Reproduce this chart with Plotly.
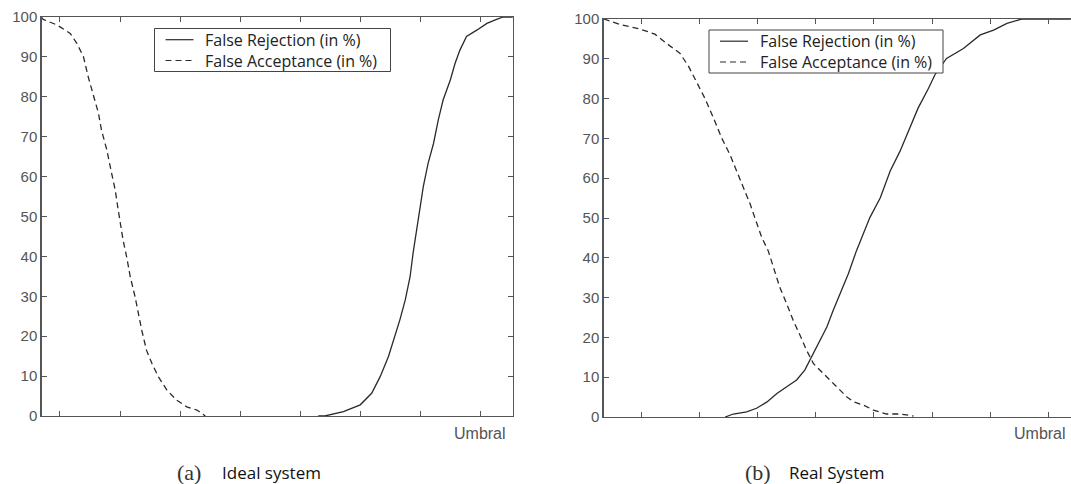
import plotly.graph_objects as go

# ---------------- data (threshold units, percent) ----------------
ideal_fa_x = [0.69, 0.72, 0.95, 1.17, 1.28, 1.39, 1.47, 1.56, 1.64, 1.69, 1.78, 1.86, 1.92, 1.97,
              2.05, 2.11, 2.17, 2.25, 2.30, 2.36, 2.44, 2.53, 2.64, 2.78, 2.94, 3.11, 3.28, 3.42]
ideal_fa_y = [100, 99.4, 98.0, 95.9, 93.4, 90.1, 85.0, 80.0, 75.9, 71.7, 66.7, 60.8, 56.6, 51.6,
              44.1, 39.9, 34.9, 29.9, 25.7, 21.6, 16.5, 13.2, 9.8, 6.5, 4.0, 2.3, 1.5, 0]

ideal_fr_x = [5.30, 5.41, 5.72, 6.00, 6.19, 6.33, 6.47, 6.58, 6.66, 6.75, 6.83, 6.88, 6.94, 7.00,
              7.05, 7.13, 7.22, 7.30, 7.38, 7.50, 7.58, 7.66, 7.77, 7.94, 8.11, 8.27, 8.38, 8.54]
ideal_fr_y = [0, 0, 1.1, 2.8, 5.7, 9.8, 14.9, 19.9, 24.1, 29.1, 34.9, 40.8, 46.6, 51.6,
              57.5, 63.3, 68.3, 74.2, 79.2, 84.2, 88.4, 91.7, 95.1, 96.7, 98.4, 99.4, 100, 100]

real_fa_x = [0.35, 0.63, 0.97, 1.23, 1.43, 1.66, 1.81, 1.95, 2.09, 2.24, 2.38, 2.52, 2.64, 2.75,
             2.87, 2.95, 3.07, 3.18, 3.27, 3.38, 3.50, 3.61, 3.73, 3.84, 3.96, 4.19, 4.42, 4.53,
             4.65, 4.82, 4.99, 5.22, 5.45, 5.68]
real_fa_y = [100, 98.6, 97.5, 96.2, 93.9, 91.4, 88.1, 83.9, 80.1, 75.1, 70.1, 66.0, 61.8, 57.6,
             53.5, 50.1, 45.1, 41.8, 37.6, 32.6, 28.4, 24.3, 20.5, 16.8, 13.4, 10.1, 6.8, 5.1,
             3.8, 3.0, 1.75, 0.75, 0.75, 0.25]

real_fr_x = [2.44, 2.58, 2.81, 2.98, 3.16, 3.33, 3.50, 3.67, 3.81, 3.93, 4.04, 4.19, 4.30, 4.42,
             4.56, 4.70, 4.93, 5.11, 5.28, 5.45, 5.59, 5.76, 5.94, 6.05, 6.25, 6.54, 6.83, 7.06,
             7.29, 7.46, 7.55, 8.39]
real_fr_y = [0, 0.75, 1.3, 2.2, 3.8, 5.9, 7.6, 9.3, 11.8, 15.1, 18.4, 22.6, 26.8, 30.9,
             36, 41.8, 50.1, 55.1, 61.8, 66.8, 71.8, 77.6, 82.6, 86, 90.1, 92.6, 96, 97.2,
             98.9, 99.5, 100, 100]

x_ticks = [1, 2, 3, 4, 5, 6, 7, 8]
y_ticks = [0, 10, 20, 30, 40, 50, 60, 70, 80, 90, 100]
fr_name = "False Rejection (in %)"
fa_name = "False Acceptance (in %)"
axis_label = "Umbral"
captions = [("(a)", "Ideal system"), ("(b)", "Real System")]

# ---------------- figure ----------------
W, H = 1071, 484
LINE = "#2a2a2a"
FRAME = "#555555"
DASH = "6px,4px"

def px_x(p):
    return p / W

def px_y(p):
    return (H - p) / H

fig = go.Figure()
fig.add_trace(go.Scatter(x=ideal_fr_x, y=ideal_fr_y, mode="lines", name=fr_name,
                         line=dict(color=LINE, width=1.3), xaxis="x", yaxis="y"))
fig.add_trace(go.Scatter(x=ideal_fa_x, y=ideal_fa_y, mode="lines", name=fa_name,
                         line=dict(color=LINE, width=1.3, dash=DASH), xaxis="x", yaxis="y"))
fig.add_trace(go.Scatter(x=real_fr_x, y=real_fr_y, mode="lines", name=fr_name,
                         line=dict(color=LINE, width=1.3), xaxis="x2", yaxis="y2"))
fig.add_trace(go.Scatter(x=real_fa_x, y=real_fa_y, mode="lines", name=fa_name,
                         line=dict(color=LINE, width=1.3, dash=DASH), xaxis="x2", yaxis="y2"))

tickfont = dict(family="Liberation Sans, Arial, sans-serif", size=15, color="#555555")

common_x = dict(showline=True, linecolor=FRAME, linewidth=1.2, ticks="inside", ticklen=5,
                tickcolor=FRAME, tickvals=x_ticks, showticklabels=False, showgrid=False,
                zeroline=False, fixedrange=True, automargin=False)
common_y = dict(showline=True, linecolor=FRAME, linewidth=1.2, ticks="inside", ticklen=5,
                tickcolor=FRAME, tickvals=y_ticks, showgrid=False, zeroline=False,
                range=[0, 100], tickfont=tickfont, fixedrange=True, automargin=False)

fig.update_layout(
    width=W, height=H,
    margin=dict(l=0, r=0, t=0, b=0, autoexpand=False),
    paper_bgcolor="white", plot_bgcolor="white",
    showlegend=False,
    hovermode=False,
    xaxis=dict(domain=[px_x(41.5), px_x(513)], range=[0.692, 8.544], mirror="ticks",
               anchor="y", **common_x),
    yaxis=dict(domain=[px_y(416), px_y(17)], mirror="ticks", anchor="x", **common_y),
    xaxis2=dict(domain=[px_x(603.5), 1.0], range=[0.346, 8.392], mirror="ticks",
                anchor="y2", **common_x),
    yaxis2=dict(domain=[px_y(417), px_y(19)], mirror=False, anchor="x2", **common_y),
)

shapes = []
ann = []
legend_font = dict(family="Open Sans, Noto Sans, sans-serif", size=16, color="#222222")
# legend keys: (left, top, width, height) of the framed box
legend_boxes = [(154.5, 28.5, 236, 43), (709, 30, 234, 43)]
for (lx, ly, lw, lh) in legend_boxes:
    shapes.append(dict(type="rect", xref="paper", yref="paper",
                       x0=px_x(lx), x1=px_x(lx + lw), y0=px_y(ly), y1=px_y(ly + lh),
                       line=dict(color="#444444", width=1), fillcolor="white", layer="above"))
    row_y = [ly + 11.2, ly + 32.0]
    for dash, cy in zip(["solid", DASH], row_y):
        shapes.append(dict(type="line", xref="paper", yref="paper",
                           x0=px_x(lx + 11), x1=px_x(lx + 39), y0=px_y(cy), y1=px_y(cy),
                           line=dict(color=LINE, width=1.2, dash=dash), layer="above"))
    ann.append(dict(text=fr_name + "<br>" + fa_name, x=px_x(lx + 48.5),
                    y=px_y((row_y[0] + row_y[1]) / 2), xref="paper", yref="paper",
                    xanchor="left", yanchor="middle", align="left", showarrow=False,
                    font=legend_font))

ann.append(dict(text=axis_label, x=px_x(508), y=px_y(433), xref="paper", yref="paper",
                xanchor="right", yanchor="middle", showarrow=False,
                font=dict(family="Liberation Sans, Arial, sans-serif", size=16, color="#555555")))
ann.append(dict(text=axis_label, x=px_x(1068), y=px_y(433.5), xref="paper", yref="paper",
                xanchor="right", yanchor="middle", showarrow=False,
                font=dict(family="Liberation Sans, Arial, sans-serif", size=16, color="#555555")))
cap_pos = [(189, 220), (758, 787)]
for (lab, txt), (cx, tx) in zip(captions, cap_pos):
    ann.append(dict(text=lab, x=px_x(cx), y=px_y(472), xref="paper", yref="paper",
                    xanchor="center", yanchor="middle", showarrow=False,
                    font=dict(family="Liberation Serif, DejaVu Serif, serif", size=22, color="#333333")))
    ann.append(dict(text=txt, x=px_x(tx), y=px_y(472), xref="paper", yref="paper",
                    xanchor="left", yanchor="middle", showarrow=False,
                    font=dict(family="Open Sans, Noto Sans, sans-serif", size=17, color="#111111")))
fig.update_layout(shapes=shapes, annotations=ann)

fig.write_html("out.html",
               config={"displayModeBar": False, "staticPlot": True},
               post_script="document.body.style.margin='0px';document.body.style.overflow='hidden';")
